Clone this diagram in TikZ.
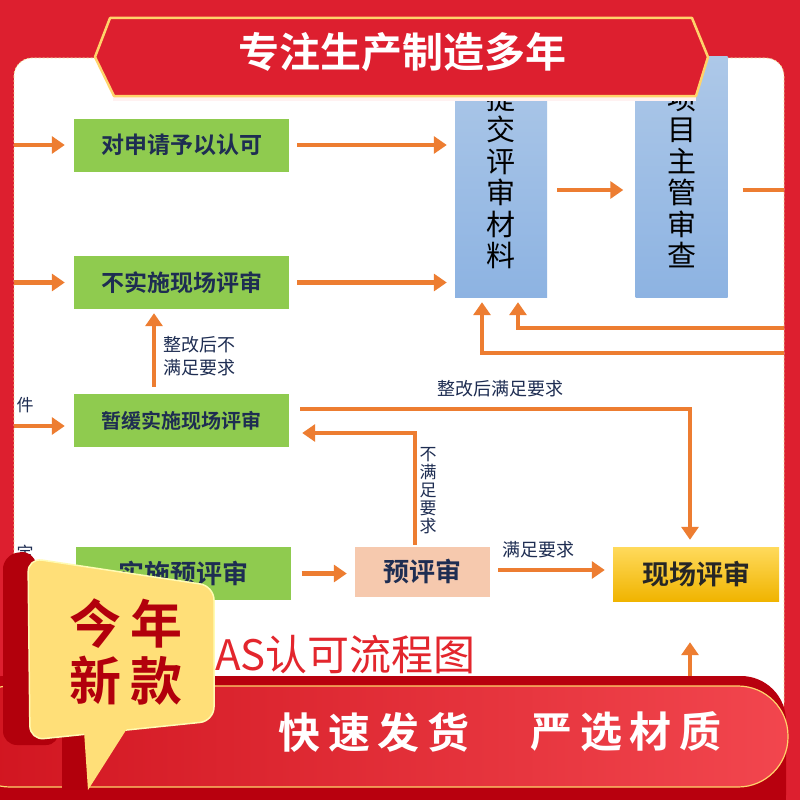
\documentclass[tikz,border=0pt]{standalone}
\usepackage{fontspec}
\usetikzlibrary{arrows.meta, positioning}

\newfontfamily\cjk{Noto Sans CJK SC}[BoldFont={Noto Sans CJK SC Bold}]
\newfontfamily\cjkwide{Noto Sans CJK SC Bold}[LetterSpace=18]

\definecolor{bgred}{HTML}{DD1F2F}
\definecolor{bannerdark}{HTML}{B8000E}
\definecolor{bannerleft}{HTML}{D0141F}
\definecolor{bannerright}{HTML}{F2464E}
\definecolor{goldline}{HTML}{FFD36B}
\definecolor{panelline}{HTML}{F1DA98}
\definecolor{boxgreen}{HTML}{8FCB4F}
\definecolor{bluetop}{HTML}{ADC8E8}
\definecolor{bluebot}{HTML}{8DB3E2}
\definecolor{peach}{HTML}{F6C9AE}
\definecolor{goldtop}{HTML}{FFDA5C}
\definecolor{goldbot}{HTML}{F0B400}
\definecolor{arroworange}{HTML}{ED7D31}
\definecolor{inknavy}{HTML}{1E2D52}
\definecolor{titlered}{HTML}{E3262D}
\definecolor{badgeyellow}{HTML}{FFDF78}
\definecolor{badgered}{HTML}{B2000C}

\begin{document}
\begin{tikzpicture}[x=1pt, y=-1pt,
    greenbox/.style={fill=boxgreen, minimum width=215pt, minimum height=53pt, inner sep=0pt,
        font=\cjk\bfseries\fontsize{23}{26}\selectfont, text=inknavy},
    bluebox/.style={top color=bluetop, bottom color=bluebot, minimum width=92pt, minimum height=240pt,
        inner sep=0pt, align=center, font=\cjk\fontsize{29}{31.5}\selectfont, text=black},
    flow/.style={draw=arroworange, line width=4.5pt, -{Triangle[length=13pt, width=17pt]}},
    flowline/.style={draw=arroworange, line width=4.5pt},
    note/.style={font=\cjk\fontsize{18}{23}\selectfont, text=inknavy, inner sep=0pt, align=left},
]
\useasboundingbox (0,0) rectangle (800,800);

% frame
\fill[bgred] (0,0) rectangle (800,800);
\path[fill=white, draw=panelline, line width=0.8pt, dash pattern=on 2pt off 2pt, rounded corners=18pt]
    (14,58) rectangle (784,720);

% flow boxes
\node[greenbox] (grant) at (181.5,145) {对申请予以认可};
\node[greenbox] (nosite) at (181.5,282.5) {不实施现场评审};
\node[greenbox, font=\cjk\bfseries\fontsize{20}{24}\selectfont] (defer) at (181.5,420.5) {暂缓实施现场评审};
\node[greenbox, font=\cjk\bfseries\fontsize{26}{28}\selectfont] (prerev) at (183,573.5) {实施预评审};
\node[fill=peach, minimum width=135pt, minimum height=50pt, inner sep=0pt, text=inknavy,
    font=\cjk\bfseries\fontsize{26}{28}\selectfont] (pre) at (422.5,572) {预评审};
\node[top color=goldtop, bottom color=goldbot, minimum width=166pt, minimum height=54pt, inner sep=0pt,
    text=black!85, font=\cjk\bfseries\fontsize{27}{30}\selectfont] (site) at (696,574) {现场评审};
\node[bluebox] (submit) at (501,177) {提\\交\\评\\审\\材\\料};
\node[bluebox] (chief) at (681.5,177) {项\\目\\主\\管\\审\\查};

% loose ends
\coordinate (in1) at (14,145);
\coordinate (in2) at (14,282.5);
\coordinate (in3) at (14,426);
\coordinate (out1) at (784,190);
\coordinate (back1) at (784,328);
\coordinate (back2) at (784,353);
\coordinate (up1) at (690,700);

\node[note, font=\cjk\fontsize{17}{20}\selectfont] (piece) at (25,405) {件};
\node[note, font=\cjk\fontsize{17}{20}\selectfont] (fixed) at (25,553) {定};

% connectors
\draw[flow, shorten >=9pt] (in1) -- (in1 -| grant.west);
\draw[flow, shorten >=9pt] (in2) -- (in2 -| nosite.west);
\draw[flow, shorten >=9pt] (in3) -- (in3 -| defer.west);
\draw[flow, shorten <=8pt, shorten >=8pt] (grant.east) -- (grant.east -| submit.west);
\draw[flow, shorten <=8pt, shorten >=8pt] (nosite.east) -- (nosite.east -| submit.west);
\draw[flow, shorten <=7pt, shorten >=4pt] ([xshift=-27.5pt]defer.north) -- ([xshift=-27.5pt]nosite.south);
\draw[flow, shorten <=10pt, shorten >=12pt] ([yshift=-13pt]submit.east) -- ([yshift=-13pt]chief.west);
\draw[flowline, shorten <=15pt] (chief.east |- out1) -- (out1);
\draw[flow, shorten >=5pt] (back1) -| ([xshift=17pt]submit.south);
\draw[flow, shorten >=5pt] (back2) -| ([xshift=-19pt]submit.south);
\draw[flow, shorten <=11pt, shorten >=7pt] ([yshift=11.5pt]defer.east) -| ([xshift=-6pt]site.north);
\draw[flow, shorten <=2pt, shorten >=13pt] ([xshift=-7.5pt]pre.north) |- ([yshift=-12.5pt]defer.east);
\draw[flow, shorten <=11pt, shorten >=8pt] (prerev.east) -- (prerev.east -| pre.west);
\draw[flow, shorten <=8pt, shorten >=8pt] ([yshift=2pt]pre.east) -- ([yshift=2pt]pre.east -| site.west);
\draw[flow, shorten >=41pt] (up1) -- ([xshift=-6pt]site.south);

% labels
\node[note, anchor=west] (l1) at (163,356.5) {整改后不\\满足要求};
\node[note, anchor=west] (l2) at (437,389) {整改后满足要求};
\node[note, align=center, font=\cjk\fontsize{17}{18}\selectfont] (l3) at (428,491) {不\\满\\足\\要\\求};
\node[note, anchor=west] (l4) at (502,550) {满足要求};

% top banner
\fill[pink!22] (113,96) rectangle (696,101);
\path[fill=bgred, draw=goldline, line width=2.5pt, line join=round]
    (110,18) -- (692,18) -- (708,57) -- (696,96) -- (114,96) -- (95,57) -- cycle;
\node[text=white, font=\cjk\bfseries\fontsize{41}{44}\selectfont] (head) at (402,52) {专注生产制造多年};

% title
\node[anchor=east, text=titlered, inner sep=0pt, font=\cjk\fontsize{42}{44}\selectfont] (title) at (476,655) {CNAS认可流程图};

% bottom banner
\fill[bannerdark, rounded corners=45pt] (-40,676) rectangle (786,840);
\path[left color=bannerleft, right color=bannerright, draw=goldline, line width=1.2pt, rounded corners=50pt]
    (-40,686) rectangle (788,787);
\node[text=white, font=\cjkwide\fontsize{42}{44}\selectfont] (ship) at (374,732) {快速发货};
\node[text=white, font=\cjkwide\fontsize{42}{44}\selectfont] (pick) at (626,732) {严选材质};

% badge
\fill[badgered, rounded corners=14pt] (3,555) -- (34,550) -- (60,745) -- (3,745) -- cycle;
\fill[badgered] (62,735) rectangle (88,790);
\path[fill=badgeyellow, draw=yellow!30, line width=1.5pt, rounded corners=14pt]
    (28,558) -- (214,586) -- (214,721) -- (30,740) -- cycle;
\fill[badgeyellow] (84,731) -- (128,727) -- (88,790) -- cycle;
\node[text=badgered, font=\cjkwide\fontsize{52}{56}\selectfont] (now) at (126,624) {今年};
\node[text=badgered, font=\cjkwide\fontsize{52}{56}\selectfont] (new) at (126,681) {新款};
\end{tikzpicture}
\end{document}
